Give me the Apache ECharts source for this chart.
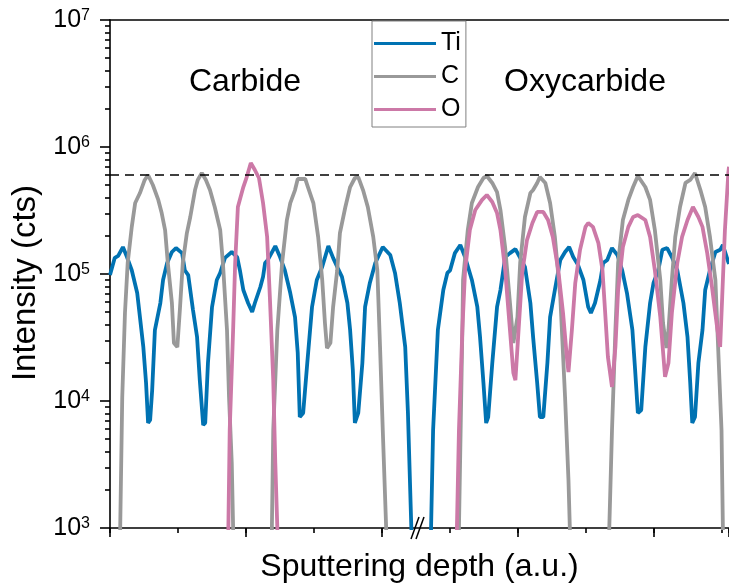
<!DOCTYPE html>
<html>
<head>
<meta charset="utf-8">
<script src="https://cdn.jsdelivr.net/npm/echarts@6/dist/echarts.min.js"></script>
<style>
  html, body { margin: 0; padding: 0; background: #fff; }
  #chart { width: 729px; height: 588px; }
</style>
</head>
<body>
<div id="chart"></div>
<script>
// ---------------- data ----------------
const seriesNames = ['Ti', 'C', 'O'];
// depth in a.u. (minor tick = 10), intensity in counts; values below 1e3 lie off-scale
const tiProfile = [[0,98000],[0.7,134000],[1.2,139000],[1.9,163000],[2.5,136000],[3.2,107000],[4.0,70800],[4.4,45800],[4.9,26600],[5.3,13900],
  [5.6,6710],[5.9,7080],[6.2,12200],[6.6,36200],[7.4,59100],[7.8,89700],[8.4,122000],[9.1,149000],[9.7,160000],[10.6,146000],
  [11.0,107000],[11.5,98000],[12.2,52100],[12.8,31900],[13.2,14600],[13.7,6470],[14.0,6710],[14.4,19900],[15.0,55000],[15.7,89700],
  [16.2,102000],[16.9,134000],[17.9,149000],[18.7,136000],[19.1,107000],[19.6,74800],[20.3,59100],[20.9,50200],[21.3,59100],[22.1,79000],
  [22.5,95000],[22.8,122000],[23.2,129000],[24.3,166000],[25.0,136000],[25.7,107000],[26.5,70800],[27.2,45800],[27.6,23900],[27.9,7480],
  [28.4,8050],[29.0,19900],[29.7,55000],[30.4,89700],[31.2,114000],[32.1,166000],[32.8,134000],[33.5,111000],[34.1,95000],[34.9,59100],
  [35.3,36200],[35.7,17500],[36.0,6710],[36.5,8050],[37.1,19900],[37.5,55000],[38.2,85000],[39.0,122000],[40.1,163000],[41.2,141000],
  [41.9,102000],[42.6,59100],[43.4,26600],[43.8,8050],[44.3,1000],[44.8,100],[46.9,100],[47.2,1000],[47.5,5910],[48.2,36200],
  [49.0,74800],[49.6,102000],[50.0,107000],[50.7,146000],[51.5,169000],[52.2,136000],[53.2,89700],[54.0,55000],[54.4,31900],[54.9,13900],
  [55.3,6710],[55.6,7480],[56.2,19900],[56.9,55000],[57.4,74800],[58.1,136000],[58.8,146000],[59.6,157000],[60.3,134000],[61.0,114000],
  [61.8,59100],[62.2,31900],[62.8,13900],[63.2,7480],[63.7,7480],[64.3,19900],[64.7,45800],[65.4,74800],[66.2,129000],[66.9,149000],
  [67.5,163000],[68.1,136000],[68.8,118000],[69.6,89700],[70.3,55000],[70.7,49300],[71.3,59100],[72.1,89700],[72.5,122000],[73.1,129000],
  [73.8,160000],[74.6,141000],[75.3,107000],[76.0,70800],[76.8,36200],[77.2,17500],[77.6,8050],[78.1,8500],[78.7,26600],[79.4,59100],
  [79.9,85000],[80.6,107000],[81.2,155000],[81.9,160000],[82.6,136000],[83.4,107000],[84.3,59100],[84.9,31900],[85.3,13900],[85.6,6710],
  [86.0,7480],[86.5,19900],[87.1,36200],[87.5,74800],[88.2,107000],[89.0,149000],[89.7,155000],[90.1,169000],[90.9,124000],[91.0,120000]];

const cProfile = [[0,100],[1.2,100],[1.5,1000],[1.8,10700],[2.2,49300],[2.6,122000],[3.2,235000],[3.7,362000],[4.4,434000],[5.1,550000],
  [5.6,602000],[6.3,502000],[7.1,383000],[7.6,302000],[8.1,222000],[8.5,122000],[9.1,59100],[9.4,28600],[9.9,26600],[10.3,55000],
  [10.7,122000],[11.3,210000],[11.8,281000],[12.5,458000],[12.9,550000],[13.5,624000],[14.1,550000],[14.7,458000],[15.4,337000],[16.2,222000],
  [16.6,122000],[17.2,36200],[17.5,10700],[17.9,3250],[18.1,1000],[18.4,100],[23.5,100],[23.8,1000],[24.0,5910],[24.6,36200],
  [25.3,122000],[26.0,266000],[26.5,362000],[27.2,458000],[27.6,560000],[28.7,560000],[29.1,484000],[29.9,362000],[30.6,196000],[31.2,89700],
  [31.6,41100],[31.9,26100],[32.4,28600],[32.8,55000],[33.4,107000],[33.8,210000],[34.6,337000],[35.3,484000],[36.0,570000],[36.5,580000],
  [37.2,458000],[37.9,337000],[38.7,196000],[39.3,107000],[39.7,26600],[40.1,5910],[40.6,1000],[41.0,100],[51.0,100],[51.3,1000],
  [51.8,36200],[51.9,89700],[52.6,222000],[53.2,362000],[54.1,484000],[54.9,570000],[55.4,591000],[56.2,521000],[56.9,442000],[57.4,319000],
  [58.1,160000],[58.8,59100],[59.3,28600],[59.9,45800],[60.3,122000],[61.0,281000],[61.8,434000],[62.2,458000],[62.8,521000],[63.2,580000],
  [64.0,521000],[64.7,362000],[65.4,196000],[66.2,65900],[66.9,10700],[67.4,2390],[67.6,1000],[67.9,100],[73.1,100],[73.4,1000],
  [73.8,5910],[74.3,36200],[74.7,122000],[75.4,266000],[76.2,383000],[76.9,484000],[77.6,591000],[78.7,484000],[79.4,383000],[80.1,222000],
  [80.9,89700],[81.3,41100],[81.8,26100],[82.1,36200],[82.6,89700],[83.1,196000],[83.8,337000],[84.6,521000],[85.3,550000],[86.0,624000],
  [86.8,458000],[87.5,337000],[88.2,196000],[89.0,89700],[89.4,26600],[89.9,5910],[90.1,1000],[90.4,100],[91,100]];

const oProfile = [[0,100],[17.1,100],[17.4,1000],[17.6,5910],[18.1,36200],[18.4,122000],[18.8,337000],[19.6,484000],[20.1,580000],[20.7,748000],
  [21.3,659000],[21.9,570000],[22.5,362000],[23.1,196000],[23.5,65900],[24.0,14600],[24.3,3250],[24.6,1000],[24.9,100],[50.7,100],
  [51.0,1000],[51.3,5910],[51.8,36200],[52.2,107000],[52.9,222000],[53.7,319000],[54.7,383000],[55.4,419000],[56.2,369000],[56.9,302000],
  [57.4,222000],[58.1,107000],[58.8,36200],[59.3,16600],[59.6,14600],[60.0,31900],[60.6,102000],[61.3,185000],[62.1,252000],[62.8,308000],
  [63.7,308000],[64.4,266000],[65.1,196000],[65.9,107000],[66.6,49300],[67.2,21000],[67.4,16900],[67.9,36200],[68.4,85000],[69.1,155000],
  [69.9,235000],[70.3,252000],[71.0,235000],[71.8,175000],[72.4,107000],[72.8,49300],[73.2,22200],[73.8,12900],[74.3,26600],[74.7,74800],
  [75.4,163000],[76.2,235000],[76.9,281000],[77.6,291000],[78.7,266000],[79.4,196000],[80.1,107000],[80.9,45800],[81.6,15500],[82.1,19900],
  [82.6,49300],[83.4,122000],[84.1,196000],[84.9,266000],[85.7,337000],[86.5,281000],[87.1,235000],[87.8,146000],[88.5,79000],[89.3,36200],
  [89.7,26600],[90.0,65900],[90.4,222000],[90.9,624000],[91,700000]];

const saturationLevel = 610000;            // dashed reference line
const depthRange = [0, 91];
const depthMajorStep = 20, depthMinorStep = 10;
const intensityRange = [1e3, 1e7];
const minorDecades = [3, 4, 5, 6];
const minorMultipliers = [2, 3, 4, 5, 6, 7, 8, 9];
const regionLabels = ['Carbide', 'Oxycarbide'];
const xTitle = 'Sputtering depth (a.u.)';
const yTitle = 'Intensity (cts)';

// ---------------- chart ----------------
const FONT = 'Liberation Sans, Arial, sans-serif';
const colors = ['#0072B2', '#999999', '#CC79A7'];
const LINE_W = 3.8;
const minorExps = [];
minorDecades.forEach(d => minorMultipliers.forEach(m => minorExps.push(d + Math.log10(m))));

const chart = echarts.init(document.getElementById('chart'), null, { renderer: 'canvas' });
const axisLineStyle = { color: '#000', width: 1.6 };

const option = {
  animation: false,
  backgroundColor: '#fff',
  grid: { left: 110, right: 0, top: 20, bottom: 60, containLabel: false, outerBoundsMode: 'none' },
  legend: {
    data: seriesNames.map(n => ({ name: n, icon: 'rect' })),
    orient: 'vertical',
    left: 372, top: 21,
    itemWidth: 62, itemHeight: 3, itemGap: 8,
    padding: [10, 5, 5, 2],
    borderColor: '#808080', borderWidth: 1,
    backgroundColor: '#fff',
    textStyle: { fontSize: 25, fontFamily: FONT, color: '#000' },
    selectedMode: false
  },
  xAxis: [
    {
      type: 'value', min: depthRange[0], max: depthRange[1], interval: depthMajorStep, position: 'bottom',
      axisLine: { show: true, lineStyle: axisLineStyle },
      axisTick: { show: true, inside: false, length: 9, lineStyle: axisLineStyle },
      axisLabel: { show: false }, splitLine: { show: false },
      name: xTitle, nameLocation: 'middle', nameGap: 23,
      nameTextStyle: { fontSize: 32, fontFamily: FONT, color: '#000' }
    },
    {
      type: 'value', min: depthRange[0], max: depthRange[1], interval: depthMinorStep, position: 'bottom',
      axisLine: { show: false },
      axisTick: { show: true, inside: false, length: 5, lineStyle: axisLineStyle },
      axisLabel: { show: false }, splitLine: { show: false }
    },
    {
      type: 'value', min: depthRange[0], max: depthRange[1], position: 'top',
      axisLine: { show: true, lineStyle: axisLineStyle },
      axisTick: { show: false }, axisLabel: { show: false }, splitLine: { show: false }
    }
  ],
  yAxis: [
    {
      type: 'log', logBase: 10, min: intensityRange[0], max: intensityRange[1], position: 'left',
      axisLine: { show: true, lineStyle: axisLineStyle },
      axisTick: { show: true, inside: false, length: 10, lineStyle: axisLineStyle },
      axisLabel: {
        margin: 20,
        formatter: v => '{b|10}{s|' + Math.round(Math.log10(v)) + '}',
        rich: {
          b: { fontSize: 25, fontFamily: FONT, color: '#000', lineHeight: 25 },
          s: { fontSize: 16, fontFamily: FONT, color: '#000', verticalAlign: 'top', lineHeight: 16 }
        }
      },
      splitLine: { show: false }, minorSplitLine: { show: false },
      name: yTitle, nameLocation: 'middle', nameGap: 68, nameRotate: 90,
      nameTextStyle: { fontSize: 33, fontFamily: FONT, color: '#000', padding: [0, 18, 0, 0] }
    },
    {
      type: 'value', min: Math.log10(intensityRange[0]), max: Math.log10(intensityRange[1]), position: 'left',
      axisLine: { show: false },
      axisTick: { show: true, inside: false, length: 5, lineStyle: axisLineStyle, customValues: minorExps },
      axisLabel: { show: false }, splitLine: { show: false }
    }
  ],
  series: [
    {
      name: 'Ti', type: 'line', xAxisIndex: 0, yAxisIndex: 0, data: tiProfile,
      symbol: 'none', showSymbol: false, clip: true, z: 2,
      lineStyle: { color: colors[0], width: LINE_W }, itemStyle: { color: colors[0] },
      markLine: {
        silent: true, symbol: ['none', 'none'], label: { show: false },
        lineStyle: { color: '#000', type: [9, 6], width: 1.6 },
        emphasis: { disabled: true },
        data: [{ yAxis: saturationLevel }]
      }
    },
    {
      name: 'C', type: 'line', xAxisIndex: 0, yAxisIndex: 0, data: cProfile,
      symbol: 'none', showSymbol: false, clip: true, z: 3,
      lineStyle: { color: colors[1], width: LINE_W }, itemStyle: { color: colors[1] }
    },
    {
      name: 'O', type: 'line', xAxisIndex: 0, yAxisIndex: 0, data: oProfile,
      symbol: 'none', showSymbol: false, clip: true, z: 4,
      lineStyle: { color: colors[2], width: LINE_W }, itemStyle: { color: colors[2] }
    }
  ],
  graphic: [
    { type: 'text', x: 245, y: 82, z: 10,
      style: { text: regionLabels[0], font: '32px ' + FONT, fill: '#000', align: 'center', verticalAlign: 'middle', textAlign: 'center', textVerticalAlign: 'middle' } },
    { type: 'text', x: 585, y: 82, z: 10,
      style: { text: regionLabels[1], font: '32px ' + FONT, fill: '#000', align: 'center', verticalAlign: 'middle', textAlign: 'center', textVerticalAlign: 'middle' } },
    { type: 'line', z: 20, shape: { x1: 411, y1: 539, x2: 419, y2: 517 }, style: { stroke: '#000', lineWidth: 1.5 } },
    { type: 'line', z: 20, shape: { x1: 416, y1: 539, x2: 424, y2: 517 }, style: { stroke: '#000', lineWidth: 1.5 } }
  ]
};
chart.setOption(option);
</script>
</body>
</html>
